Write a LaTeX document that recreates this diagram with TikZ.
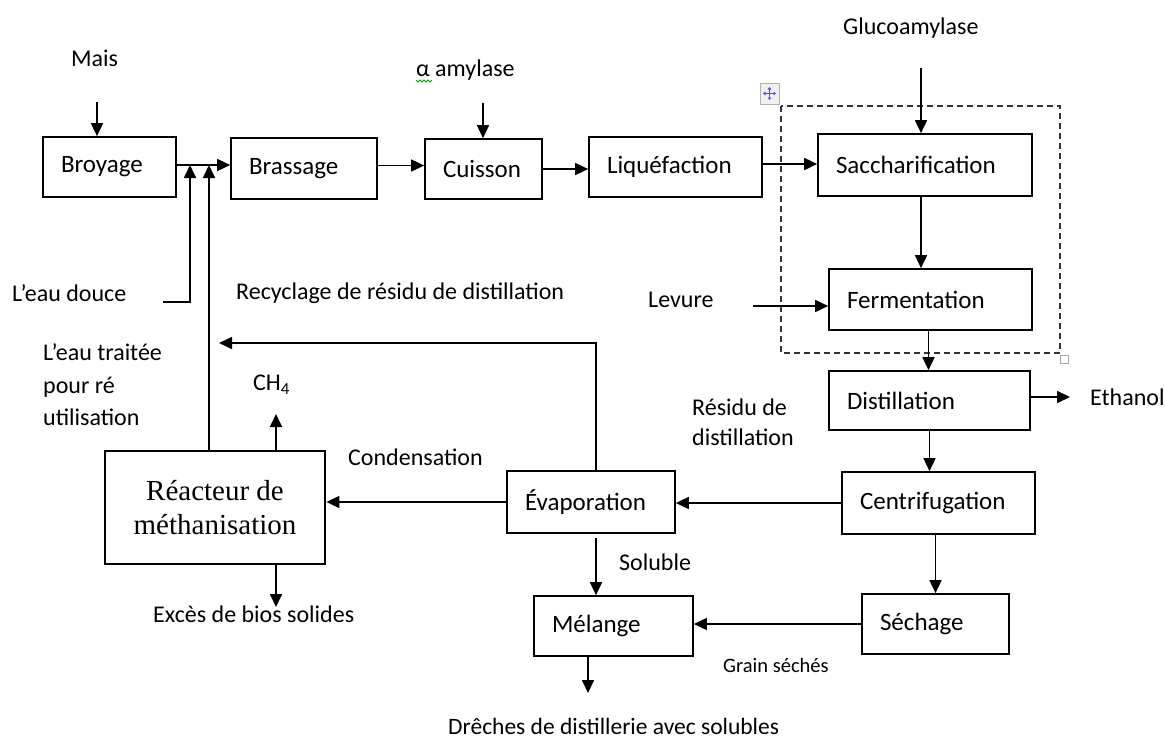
\documentclass[tikz,border=0pt]{standalone}
\usepackage{fontspec}
\setmainfont{Carlito}
\newfontfamily\tnr{Liberation Serif}
\usetikzlibrary{arrows.meta,calc}
\begin{document}
\begin{tikzpicture}[x=1pt,y=-1pt,
 boxnode/.style={draw, line width=1.7pt, inner xsep=18pt, inner ysep=0pt, align=left, font=\fontsize{25}{30}\selectfont},
 lbl/.style={inner sep=0pt, anchor=west, font=\fontsize{24}{30}\selectfont},
 arr/.style={line width=1.7pt, -{Triangle[length=13pt,width=12pt]}},
 plain/.style={line width=1.7pt}]
\useasboundingbox (0,0) rectangle (1165,740);

% dashed group
\draw[line width=1.3pt, dash pattern=on 6pt off 4pt, black!80] (781,106) rectangle (1060,353);
% move icon
\draw[gray!60, fill=gray!12, line width=0.8pt] (760,83) rectangle (779,104);
\draw[blue!70, line width=1pt, {Triangle[length=2.5pt,width=3.5pt]}-{Triangle[length=2.5pt,width=3.5pt]}] (763,93.5) -- (776,93.5);
\draw[blue!70, line width=1pt, {Triangle[length=2.5pt,width=3.5pt]}-{Triangle[length=2.5pt,width=3.5pt]}] (769.5,87) -- (769.5,100);
% resize handle
\draw[gray!70, fill=white, line width=0.8pt] (1060,355) rectangle (1068,363);

% boxes
\node[boxnode, text width=97pt,  minimum height=60pt] (broy) at (109.5,167) {Broyage};
\node[boxnode, text width=110pt, minimum height=61pt] (brass) at (304,168.5) {Brassage};
\node[boxnode, text width=81pt,  minimum height=60pt] (cuis) at (483.5,169) {Cuisson};
\node[boxnode, text width=137pt, minimum height=60pt] (liq) at (675.5,167) {Liquéfaction};
\node[boxnode, text width=178pt, minimum height=62pt] (sacc) at (925,165) {Saccharification};
\node[boxnode, text width=167pt, minimum height=61pt] (ferm) at (930.5,299.5) {Fermentation};
\node[boxnode, text width=165pt, minimum height=59pt] (dist) at (929.5,400.5) {Distillation};
\node[boxnode, text width=157pt, minimum height=62pt] (cent) at (938.5,503) {Centrifugation};
\node[boxnode, text width=111pt, minimum height=60pt] (sech) at (935.5,624) {Séchage};
\node[boxnode, text width=132pt, minimum height=62pt] (evap) at (591,502) {Évaporation};
\node[boxnode, text width=123pt, minimum height=60pt] (mel) at (613.5,626) {Mélange};
\node[draw, line width=2.8pt, minimum width=220pt, minimum height=113pt, align=center, inner sep=0pt,
      font=\tnr\fontsize{29}{34}\selectfont] (reac) at (215,507.5) {Réacteur de\\méthanisation};

% labels
\node[lbl] (mais) at (71,58) {Mais};
\node[lbl] (eaud) at (12,293) {L’eau douce};
\node[lbl] (recy) at (236,293) {Recyclage de résidu de distillation};
\node[lbl, align=left, font=\fontsize{24}{32.5}\selectfont] (treat) at (43,385) {L’eau traitée\\pour ré\\utilisation};
\node[lbl] (ch4) at (253,385) {CH\textsubscript{4}};
\node[lbl] (cond) at (348,457) {Condensation};
\node[lbl, align=left, font=\fontsize{24}{30}\selectfont] (resid) at (692,422) {Résidu de\\distillation};
\node[lbl] (sol) at (619,562) {Soluble};
\node[lbl, font=\fontsize{20.5}{24}\selectfont] (grain) at (723,665) {Grain séchés};
\node[lbl, font=\fontsize{23.5}{28}\selectfont] (drech) at (448,726) {Drêches de distillerie avec solubles};
\node[lbl] (lev) at (648,300) {Levure};
\node[lbl] (gluc) at (843,28) {Glucoamylase};
\node[lbl] (alpha) at (416,70) {α amylase};
\node[lbl] (eth) at (1090,397) {Ethanol};
\node[lbl] (exc) at (153,614) {Excès de bios solides};
% spelling squiggle
\draw[green!60!black, line width=0.8pt] (416,80) -- (418,82) -- (420,80) -- (422,82) -- (424,80) -- (426,82) -- (428,80) -- (430,82) -- (432,80);

% free ends and junctions
\coordinate (maisA) at (97,102);
\coordinate (j1) at (190,165);
\coordinate (j2) at (209,165);
\coordinate (eaudA) at (163,302);
\coordinate (alA) at (483,103);
\coordinate (glA) at (921,68);
\coordinate (levA) at (753,306);
\coordinate (ethA) at (1070,397);
\coordinate (evs) at (596,538);
\coordinate (evu) at (596,471);
\coordinate (recA) at (219,343);
\coordinate (drA) at (588,693);
\coordinate (ch4A) at (276,414);
\coordinate (exA) at (276,607);

% connectors
\draw[arr] (maisA) -- (maisA |- broy.north);
\draw[arr] (broy.east |- j1) -- (j1 -| brass.west);
\draw[arr] (eaudA) -| (j1);
\draw[arr] (j2 |- reac.north) -- (j2);
\draw[arr] ([yshift=3pt]brass.east) -- ([yshift=3pt]brass.east -| cuis.west);
\draw[arr] (alA) -- (alA |- cuis.north);
\draw[arr] (cuis.east) -- (cuis.east -| liq.west);
\draw[arr] ([yshift=3pt]liq.east) -- ([yshift=3pt]liq.east -| sacc.west);
\draw[arr] (glA) -- (glA |- sacc.north);
\draw[arr] (sacc.south -| glA) -- (glA |- ferm.north);
\draw[arr] (levA) -- (levA -| ferm.west);
\draw[arr] ([xshift=-2pt]ferm.south) -- ([xshift=-2pt]ferm.south |- dist.north);
\draw[arr] (dist.east |- ethA) -- (ethA);
\draw[arr] (dist.south) -- (dist.south |- cent.north);
\draw[arr] (cent.west) -- (cent.west -| evap.east);
\draw[arr] (sech.north |- cent.south) -- (sech.north);
\draw[arr] (sech.west) -- (sech.west -| mel.east);
\draw[arr] (evs) -- (evs |- mel.north);
\draw[arr] (drA |- mel.south) -- (drA);
\draw[arr] (evap.west) -- (evap.west -| reac.east);
\draw[arr] (evu) |- (recA);
\draw[arr] (ch4A |- reac.north) -- (ch4A);
\draw[arr] (exA |- reac.south) -- (exA);
\end{tikzpicture}
\end{document}
